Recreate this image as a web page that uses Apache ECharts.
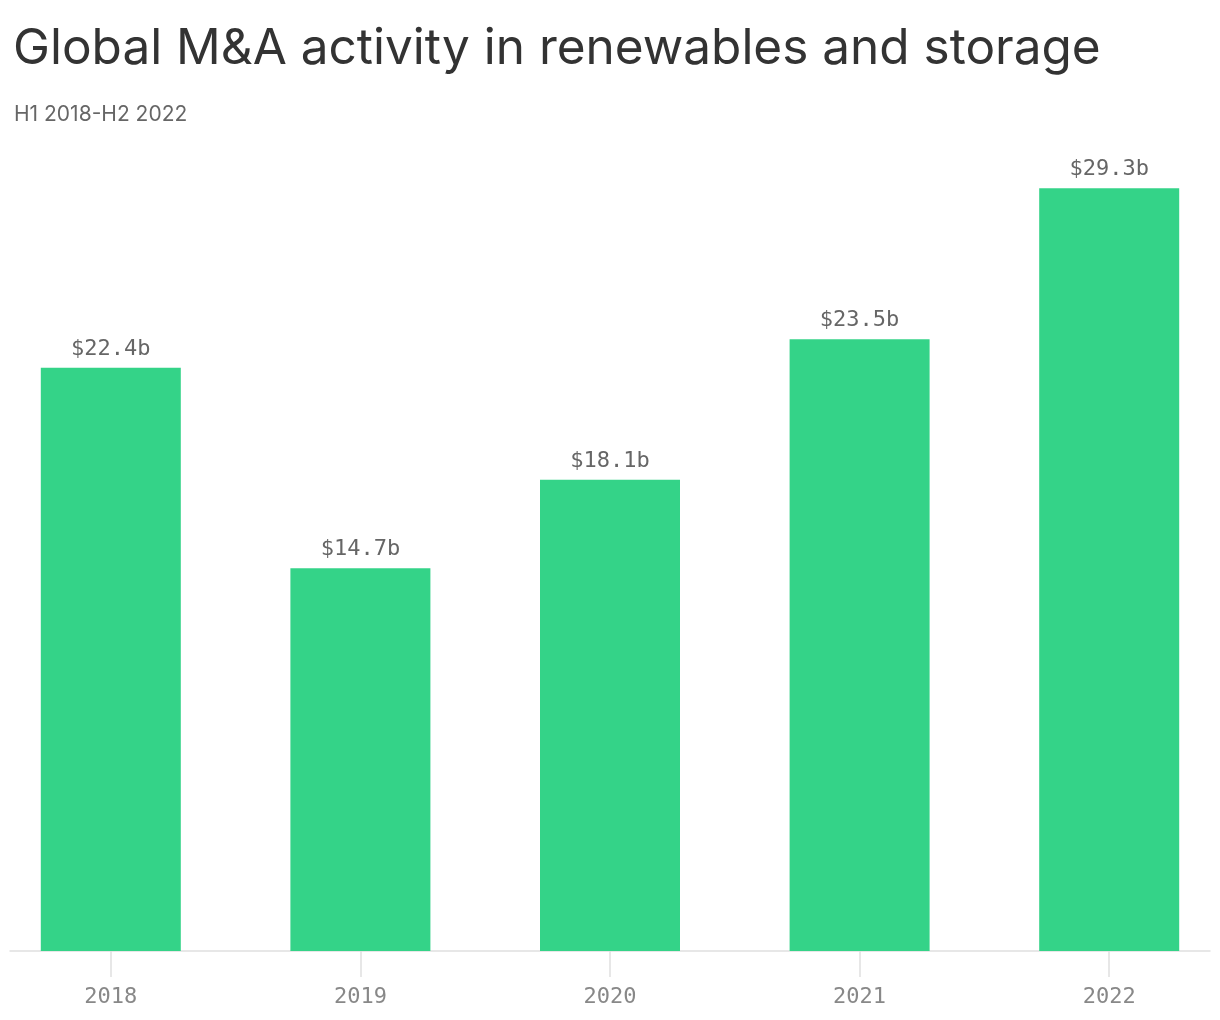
<!DOCTYPE html>
<html>
<head>
<meta charset="utf-8">
<script src="https://cdn.jsdelivr.net/npm/echarts@6/dist/echarts.min.js"></script>
<style>
html,body{margin:0;padding:0;background:#fff;}
#chart{width:1220px;height:1020px;}
</style>
</head>
<body>
<div id="chart"></div>
<script>
const titleText = "Global M&A activity in renewables and storage";
const subtitleText = "H1 2018-H2 2022";
const categories = ["2018", "2019", "2020", "2021", "2022"];
const values = [22.4, 14.7, 18.1, 23.5, 29.3];

const chart = echarts.init(document.getElementById('chart'));
chart.setOption({
  animation: false,
  backgroundColor: '#ffffff',
  title: [
    {
      text: titleText,
      left: 8, top: 19,
      textStyle: { fontFamily: 'Inter', fontSize: 49.5, fontWeight: 'normal', color: '#333333' }
    },
    {
      text: subtitleText,
      left: 9, top: 99,
      textStyle: { fontFamily: 'Inter', fontSize: 21, fontWeight: 'normal', color: '#666666' }
    }
  ],
  grid: [
    { left: -14, right: -14, top: 170, bottom: 69, containLabel: false, outerBoundsMode: 'none' },
    { left: 10, right: 10, top: 170, bottom: 69, containLabel: false, outerBoundsMode: 'none' }
  ],
  xAxis: [
    {
      type: 'category', gridIndex: 0, data: categories,
      axisLine: { show: false },
      axisTick: { show: true, alignWithLabel: true, length: 26, lineStyle: { color: '#e0e0e0', width: 1.5 } },
      axisLabel: { margin: 35, fontFamily: 'DejaVu Sans Mono', fontSize: 22, color: '#888888' }
    },
    {
      type: 'category', gridIndex: 1, data: categories,
      axisLine: { show: true, lineStyle: { color: '#e0e0e0', width: 1.5 } },
      axisTick: { show: false },
      axisLabel: { show: false }
    }
  ],
  yAxis: [
    { type: 'value', gridIndex: 0, min: 0, max: 30, show: false },
    { type: 'value', gridIndex: 1, min: 0, max: 30, show: false }
  ],
  series: [{
    type: 'bar',
    xAxisIndex: 0, yAxisIndex: 0,
    data: values,
    barWidth: 140,
    itemStyle: { color: '#34d388' },
    label: {
      show: true, position: 'top', distance: 8,
      fontFamily: 'DejaVu Sans Mono', fontSize: 22, color: '#666666',
      formatter: p => '$' + p.value.toFixed(1) + 'b'
    }
  }]
});
</script>
</body>
</html>
